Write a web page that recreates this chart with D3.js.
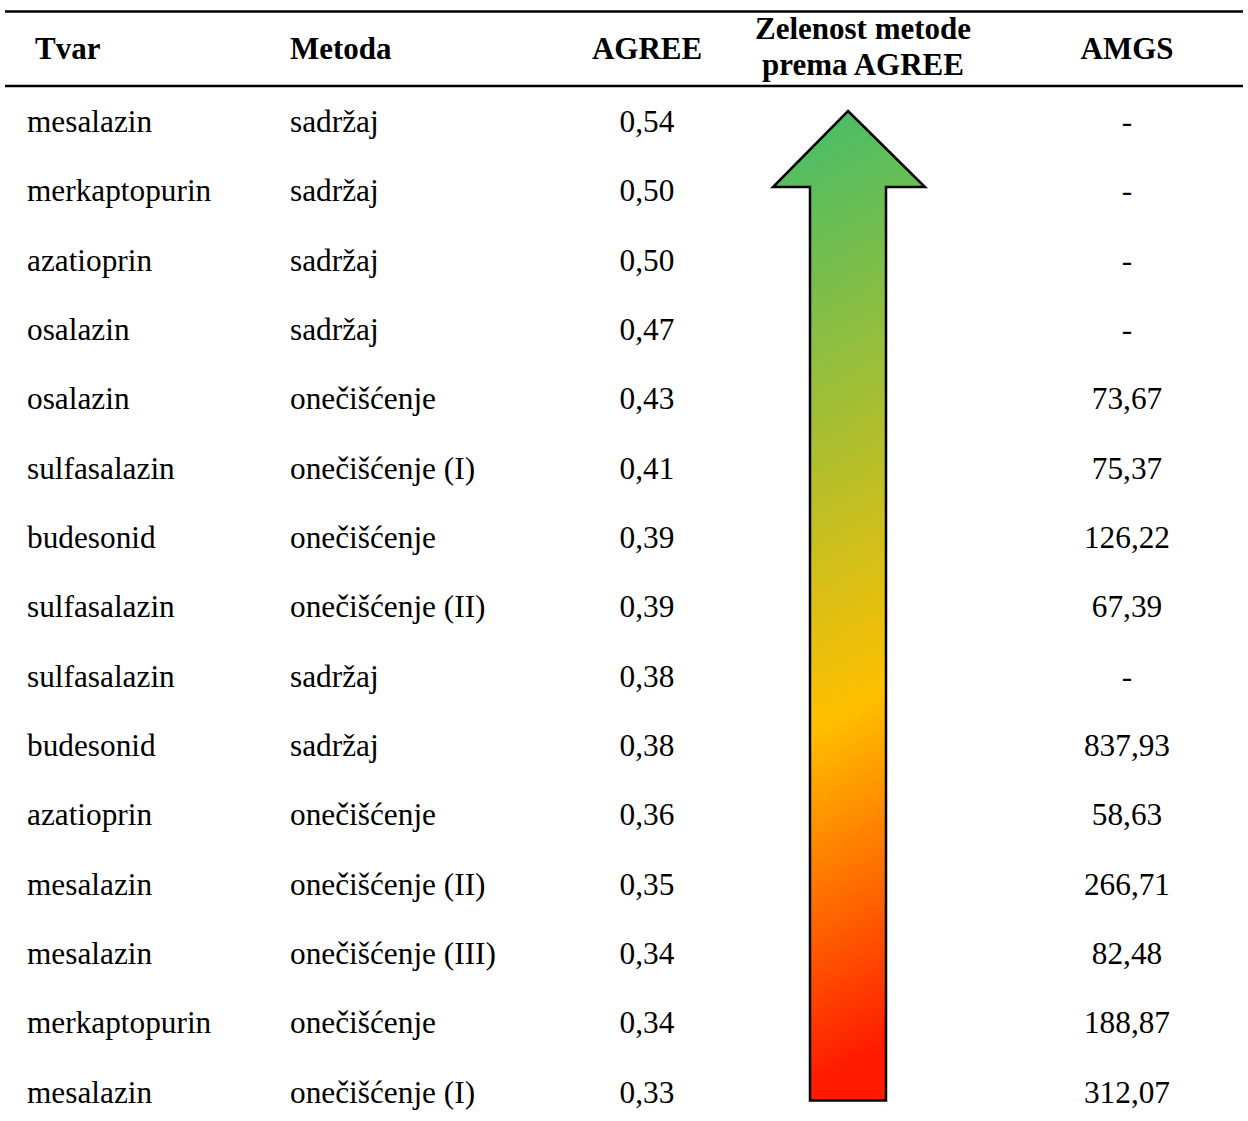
<!DOCTYPE html>
<html>
<head>
<meta charset="utf-8">
<script src="https://cdn.jsdelivr.net/npm/d3@7"></script>
<style>
  body { margin: 0; background: #fff; }
  text { font-family: "Liberation Serif", "Times New Roman", serif; fill: #000; }
</style>
</head>
<body>
<div id="table"></div>
<script>
// table data
let tvar = ["mesalazin","merkaptopurin","azatioprin","osalazin","osalazin","sulfasalazin","budesonid",
    "sulfasalazin","sulfasalazin","budesonid","azatioprin","mesalazin","mesalazin","merkaptopurin","mesalazin"];
let metoda = ["sadržaj","sadržaj","sadržaj","sadržaj","onečišćenje","onečišćenje (I)","onečišćenje",
    "onečišćenje (II)","sadržaj","sadržaj","onečišćenje","onečišćenje (II)","onečišćenje (III)","onečišćenje","onečišćenje (I)"];
let agree = ["0,54","0,50","0,50","0,47","0,43","0,41","0,39","0,39","0,38","0,38","0,36","0,35","0,34","0,34","0,33"];
let amgs = ["-","-","-","-","73,67","75,37","126,22","67,39","-","837,93","58,63","266,71","82,48","188,87","312,07"];

let width = 1248,
    height = 1121;

let svg = d3.select("#table").append("svg")
    .attr("width", width)
    .attr("height", height);

// row baselines
let y = d3.scalePoint()
    .domain(d3.range(tvar.length))
    .range([132, 132 + 69.33 * (tvar.length - 1)]);

// gradient for the arrow
let defs = svg.append("defs");
let grad = defs.append("linearGradient")
    .attr("id", "arrowGrad")
    .attr("x1", "0").attr("y1", "0")
    .attr("x2", "0.08").attr("y2", "1");
grad.append("stop").attr("offset", "0").attr("stop-color", "#3fbd6c");
grad.append("stop").attr("offset", "0.64").attr("stop-color", "#ffc000");
grad.append("stop").attr("offset", "1").attr("stop-color", "#ff1a00");

// horizontal rules
svg.append("line").attr("x1", 5).attr("x2", 1243).attr("y1", 11.5).attr("y2", 11.5)
    .attr("stroke", "#000").attr("stroke-width", 2.5);
svg.append("line").attr("x1", 5).attr("x2", 1243).attr("y1", 86).attr("y2", 86)
    .attr("stroke", "#000").attr("stroke-width", 2.5);

// header
let header = svg.append("g").attr("font-weight", "bold").attr("font-size", 31);
header.append("text").attr("x", 35).attr("y", 59).text("Tvar");
header.append("text").attr("x", 290).attr("y", 59).text("Metoda");
header.append("text").attr("x", 647).attr("y", 59).attr("text-anchor", "middle").text("AGREE");
header.append("text").attr("x", 863).attr("y", 38.5).attr("text-anchor", "middle").text("Zelenost metode");
header.append("text").attr("x", 863).attr("y", 74.5).attr("text-anchor", "middle").text("prema AGREE");
header.append("text").attr("x", 1127).attr("y", 59).attr("text-anchor", "middle").text("AMGS");

// arrow
let arrowTop = y(0) - 21, arrowBottom = y(tvar.length - 1) - 2;
let cx = 848;
let arrowPts = [
    [cx, arrowTop], [cx + 77, arrowTop + 76], [cx + 38, arrowTop + 76], [cx + 38, arrowBottom],
    [cx - 38, arrowBottom], [cx - 38, arrowTop + 76], [cx - 75, arrowTop + 76]
];
svg.append("path")
    .attr("d", d3.line()(arrowPts) + "Z")
    .attr("fill", "url(#arrowGrad)")
    .attr("stroke", "#000")
    .attr("stroke-width", 2.5)
    .attr("stroke-linejoin", "miter");

// body rows
let rows = svg.append("g").attr("font-size", 31.3)
    .selectAll("g")
    .data(d3.range(tvar.length)).enter()
    .append("g")
    .attr("transform", function(d) { return "translate(0," + y(d) + ")"; });

rows.append("text").attr("x", 27).text(function(d) { return tvar[d]; });
rows.append("text").attr("x", 290).text(function(d) { return metoda[d]; });
rows.append("text").attr("x", 647).attr("text-anchor", "middle").text(function(d) { return agree[d]; });
rows.append("text").attr("x", 1127).attr("text-anchor", "middle").text(function(d) { return amgs[d]; });
</script>
</body>
</html>
